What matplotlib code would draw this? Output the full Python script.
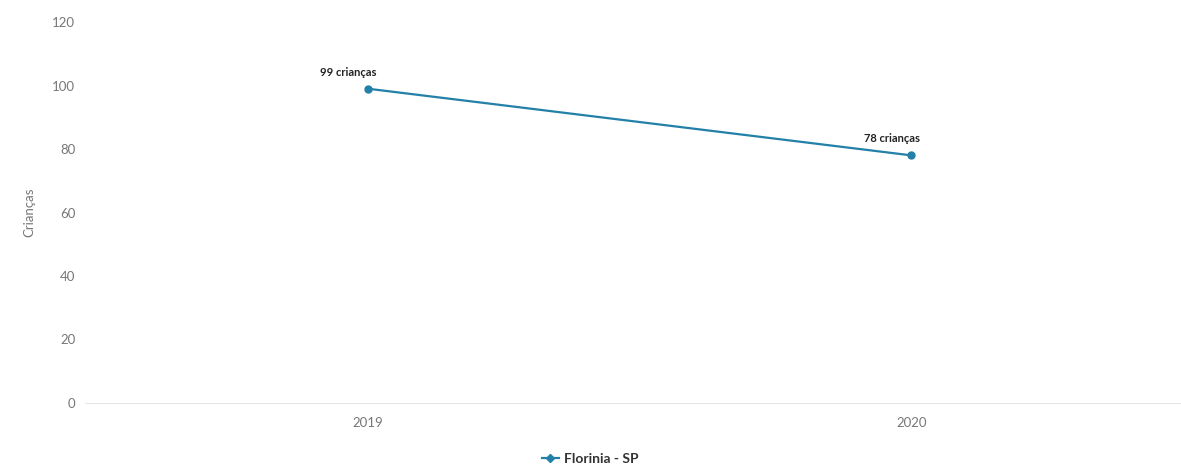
import matplotlib
matplotlib.use("Agg")
import matplotlib.pyplot as plt
from matplotlib.lines import Line2D

plt.rcParams['font.family'] = ['Lato', 'DejaVu Sans']

anos = ["2019", "2020"]
criancas = [99, 78]
rotulos = ["99 crianças", "78 crianças"]
serie = "Florinia - SP"
cor = "#2380a8"

fig = plt.figure(figsize=(11.81, 4.66), dpi=100)
ax = fig.add_axes([85/1181, 1 - 403/466, (1183 - 85)/1181, (403 - 22)/466])

x = list(range(len(anos)))
ax.plot(x, criancas, color=cor, lw=1.6, marker="o", ms=5, zorder=3)
for xi, yi, t in zip(x, criancas, rotulos):
    ax.annotate(t, (xi, yi), xytext=(-14, 8), textcoords="offset points",
                ha="center", va="bottom", fontsize=8, fontweight="bold", color="#222222")

ax.set_xlim(-0.52, 1.5)
ax.set_ylim(0, 120)
ax.set_yticks(range(0, 121, 20))
ax.set_xticks(x)
ax.set_xticklabels(anos)
ax.tick_params(axis="both", length=0, labelsize=9.5, colors="#777777")
ax.tick_params(axis="y", pad=7)
ax.tick_params(axis="x", pad=10)
ax.set_ylabel("Crianças", fontsize=9.5, color="#777777", labelpad=12)
for s in ["top", "right", "left"]:
    ax.spines[s].set_visible(False)
ax.spines["bottom"].set_color("#e6e6e6")

h = Line2D([], [], color=cor, lw=1.6, marker="D", ms=4)
leg = fig.legend([h], [serie], loc="lower center", bbox_to_anchor=(0.5, -0.025),
                 frameon=False, prop={"weight": "bold", "size": 10}, handlelength=1.2,
                 handletextpad=0.4)
for t in leg.get_texts():
    t.set_color("#333333")

fig.savefig("out.png", dpi=100)
